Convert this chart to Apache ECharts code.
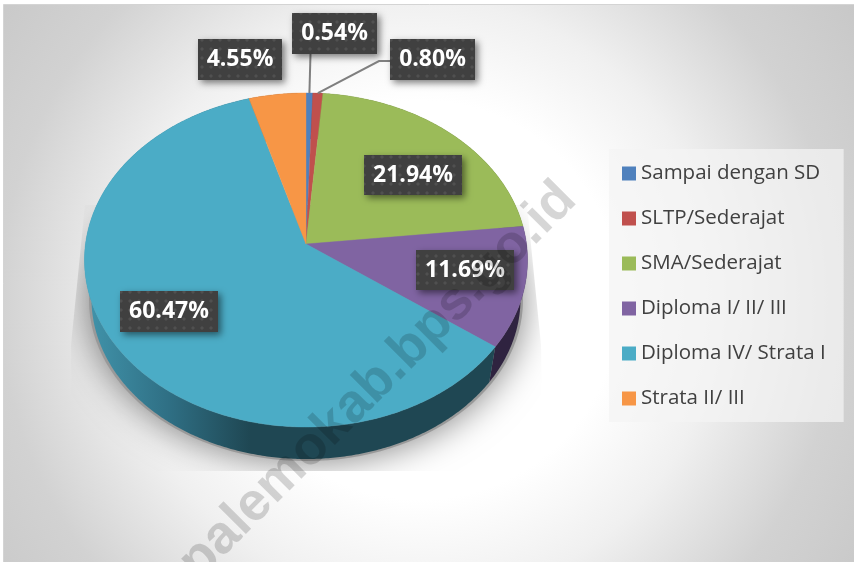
<!DOCTYPE html>
<html><head><meta charset="utf-8">
<style>html,body{margin:0;padding:0;background:#fff}#c{width:854px;height:562px}</style>
<script src="https://cdn.jsdelivr.net/npm/echarts@6/dist/echarts.min.js"></script>
</head><body><div id="c"></div>
<script>
const categories = ['Sampai dengan SD','SLTP/Sederajat','SMA/Sederajat','Diploma I/ II/ III','Diploma IV/ Strata I','Strata II/ III'];
const values = [0.54,0.80,21.94,11.69,60.47,4.55];
const colors = ['#4f81bd','#c0504d','#9bbb59','#8064a2','#4bacc6','#f79646'];
const sideColors = ['#2a4463','#652a28','#52632f','#2f2340',
  {type:'linear',x:88,y:0,x2:250,y2:0,global:true,colorStops:[{offset:0,color:'#4193aa'},{offset:.5,color:'#2f6f84'},{offset:1,color:'#1f4753'}]},
  '#834f25'];
const watermark = 'palemokab.bps.go.id';
// label box placement [left, top, width, height], separate from the data
const labelBoxes = [[292,13,85,41],[390,39,85,41],[364,155,98,40],[416,250,98,40],[120,291,98,41],[198,39,84,41]];
const leaderLines = [[[310.5,54]],[[390,61],[379,61]],null,null,null,null];

const total = values.reduce((a,b)=>a+b,0);
const APEX={x:306,y:244}, RX=220.5, RY=165.5, K=-0.0958;
function project(t){ const u=Math.sin(t),v=Math.cos(t),d=1-K*v; return [APEX.x+RX*u/d, APEX.y-RY*v/d]; }
function lower(p){ return [306+(p[0]-306)*214/221, 299+(p[1]-260)*160/167]; }
function range(i){
  const s=values.slice(0,i).reduce((a,b)=>a+b,0);
  return [s/total*2*Math.PI,(s+values[i])/total*2*Math.PI];
}
function arc(i){
  const [a,b]=range(i), n=Math.max(2,Math.ceil((b-a)/0.01)), pts=[];
  for(let k=0;k<=n;k++) pts.push(project(a+(b-a)*k/n));
  return pts;
}
const dots=document.createElement('canvas'); dots.width=9; dots.height=9;
(function(){const c=dots.getContext('2d');c.fillStyle='#404040';c.fillRect(0,0,9,9);c.fillStyle='#505050';c.fillRect(3,3,2,2);c.fillStyle='#484848';c.fillRect(2,3,1,2);c.fillRect(5,3,1,2);c.fillRect(3,2,2,1);c.fillRect(3,5,2,1);})();

const series=[];
series.push({type:'custom',name:'bayangan',coordinateSystem:'none',z:1,silent:true,clip:false,data:[[0]],
  renderItem(){return {type:'ellipse',shape:{cx:306,cy:300,rx:217,ry:161},
    style:{fill:'#999',shadowBlur:36,shadowColor:'rgba(0,0,0,0.5)'},
    clipPath:{type:'polygon',shape:{points:[[85,205],[71,345],[72,471],[542,471],[541,345],[527,205]]}}};}});
series.push({type:'custom',name:'sisi',coordinateSystem:'none',z:2,silent:true,clip:false,data:values.map(v=>[v]),
  renderItem(p){const i=p.dataIndex,a=arc(i);
    return {type:'polygon',shape:{points:a.concat(a.map(lower).reverse())},style:{fill:sideColors[i]}};}});
categories.forEach((name,i)=>series.push({type:'custom',name,coordinateSystem:'none',z:3,clip:false,silent:true,
  itemStyle:{color:colors[i]},data:[[values[i]]],
  renderItem(){return {type:'polygon',shape:{points:[[APEX.x,APEX.y]].concat(arc(i))},style:{fill:colors[i],stroke:colors[i],lineWidth:0.4}};}}));
series.push({type:'custom',name:'label',coordinateSystem:'none',z:5,silent:true,clip:false,data:values.map(v=>[v]),
  renderItem(p,api){
    const i=p.dataIndex,b=labelBoxes[i],ch=[];
    if(leaderLines[i]){
      const r=range(i),m=project((r[0]+r[1])/2);
      ch.push({type:'polyline',shape:{points:leaderLines[i].concat([m])},style:{stroke:'#7f7f7f',lineWidth:2,fill:null}});
    }
    ch.push({type:'rect',shape:{x:b[0],y:b[1],width:b[2],height:b[3]},
      style:{fill:{image:dots,repeat:'repeat'},shadowBlur:7,shadowOffsetX:3,shadowOffsetY:3,shadowColor:'rgba(0,0,0,0.5)'}});
    ch.push({type:'text',style:{text:api.value(0).toFixed(2)+'%',x:b[0]+b[2]/2,y:b[1]+b[3]/2,align:'center',verticalAlign:'middle',
      fill:'#fff',font:'bold 23px "Open Sans"'}});
    return {type:'group',children:ch};
  }});

const chart=echarts.init(document.getElementById('c'),null,{renderer:'canvas'});
chart.setOption({
  animation:false,
  graphic:[
    {type:'rect',z:-10,silent:true,shape:{x:3.5,y:4.5,width:860,height:570},
     style:{stroke:'#d4d4d4',lineWidth:1,fill:{type:'radial',x:420,y:300,r:525,global:true,colorStops:[
       {offset:0,color:'#fff'},{offset:.38,color:'#fff'},{offset:.57,color:'#f0f0f0'},{offset:.8,color:'#d2d2d2'},{offset:1,color:'#c8c8c8'}]}}},
    {type:'text',z:100,silent:true,x:378,y:381,rotation:Math.PI/4,
     style:{text:watermark,align:'center',verticalAlign:'middle',fill:'rgba(0,0,0,0.16)',font:'bold 54px "Liberation Sans"'}}
  ],
  legend:{data:categories,orient:'vertical',left:609,top:149,z:4,icon:'rect',itemWidth:14,itemHeight:14,itemGap:24,
    padding:[14,18,13,13],backgroundColor:'rgba(244,244,244,0.72)',selectedMode:false,
    textStyle:{fontFamily:'Open Sans',fontSize:20.5,color:'#404040',lineHeight:20,padding:[0,0,0,0]}},
  series
});
</script></body></html>
